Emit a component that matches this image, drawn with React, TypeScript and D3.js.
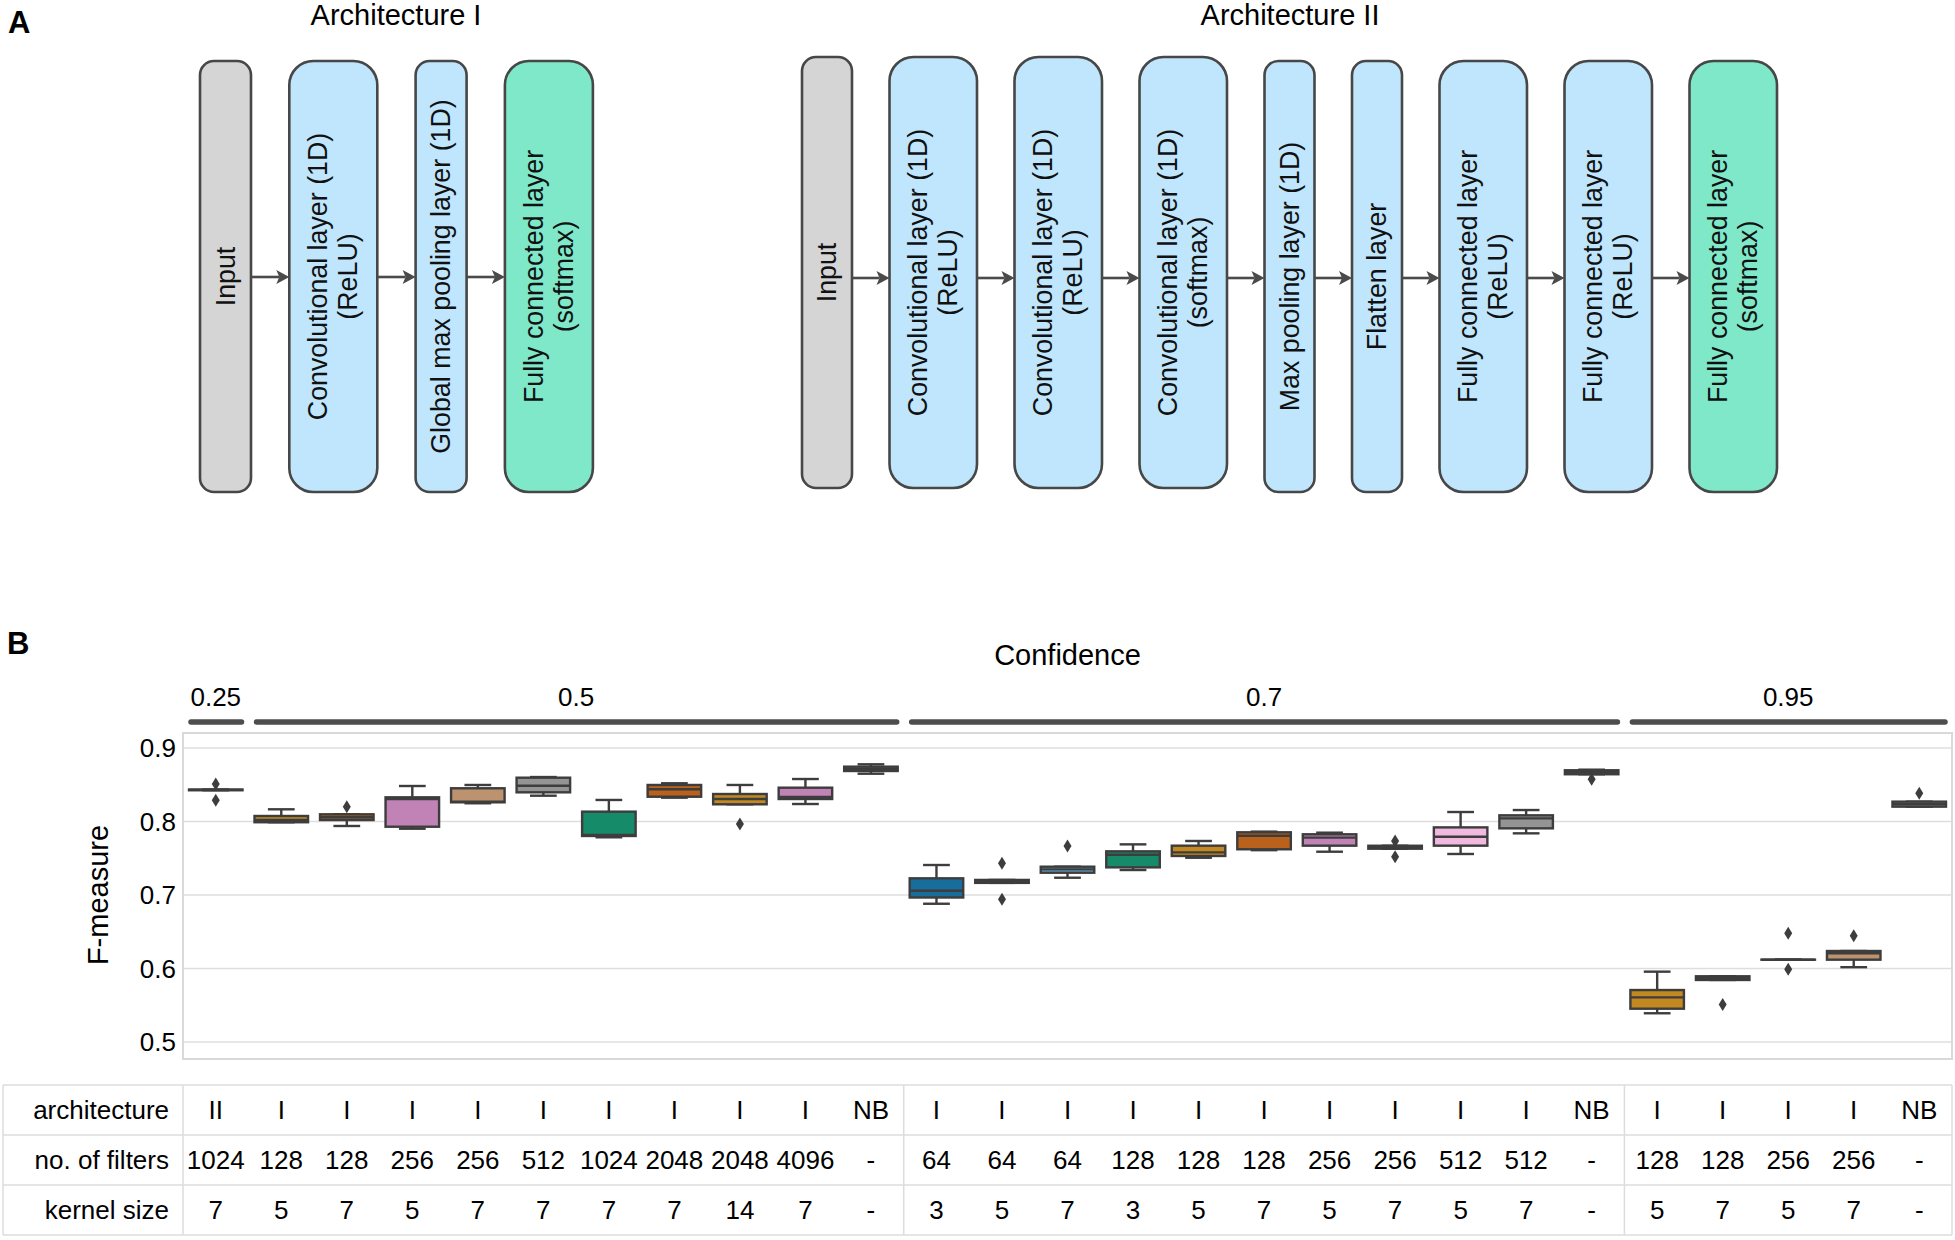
import React from "react";
import * as d3 from "d3";

// ---------- Panel A: layers ----------
const archITitle = "Architecture I";
const archIILitle = "Architecture II";
const archILayers: { lines: string[]; kind: string }[] = [
  { lines: ["Input"], kind: "input" },
  { lines: ["Convolutional layer (1D)", "(ReLU)"], kind: "hidden" },
  { lines: ["Global max pooling layer (1D)"], kind: "hidden" },
  { lines: ["Fully connected layer", "(softmax)"], kind: "output" },
];
const archIILayers: { lines: string[]; kind: string }[] = [
  { lines: ["Input"], kind: "input" },
  { lines: ["Convolutional layer (1D)", "(ReLU)"], kind: "hidden" },
  { lines: ["Convolutional layer (1D)", "(ReLU)"], kind: "hidden" },
  { lines: ["Convolutional layer (1D)", "(softmax)"], kind: "hidden" },
  { lines: ["Max pooling layer (1D)"], kind: "hidden" },
  { lines: ["Flatten layer"], kind: "hidden" },
  { lines: ["Fully connected layer", "(ReLU)"], kind: "hidden" },
  { lines: ["Fully connected layer", "(ReLU)"], kind: "hidden" },
  { lines: ["Fully connected layer", "(softmax)"], kind: "output" },
];

// ---------- Panel B: data ----------
const confidenceLevels = ["0.25", "0.5", "0.7", "0.95"];
const confidenceCounts = [1, 10, 11, 5];
const architectures = ["II", "I", "I", "I", "I", "I", "I", "I", "I", "I", "NB",
  "I", "I", "I", "I", "I", "I", "I", "I", "I", "I", "NB",
  "I", "I", "I", "I", "NB"];
const filterCounts = ["1024", "128", "128", "256", "256", "512", "1024", "2048", "2048", "4096", "-",
  "64", "64", "64", "128", "128", "128", "256", "256", "512", "512", "-",
  "128", "128", "256", "256", "-"];
const kernelSizes = ["7", "5", "7", "5", "7", "7", "7", "7", "14", "7", "-",
  "3", "5", "7", "3", "5", "7", "5", "7", "5", "7", "-",
  "5", "7", "5", "7", "-"];

const whiskerLow = [0.8425, 0.799, 0.7939, 0.7902, 0.8248, 0.8351, 0.7785, 0.8324, 0.8234, 0.8238, 0.865,
  0.6881, 0.7165, 0.7235, 0.734, 0.7507, 0.761, 0.7589, 0.763, 0.7558, 0.7839, 0.8643,
  0.5391, 0.5844, 0.612, 0.6018, 0.8202];
const q1 = [0.8425, 0.799, 0.802, 0.7929, 0.8261, 0.8397, 0.7803, 0.8337, 0.8234, 0.8306, 0.8687,
  0.6966, 0.7165, 0.7303, 0.7376, 0.7531, 0.7622, 0.7671, 0.763, 0.7671, 0.7907, 0.8643,
  0.5453, 0.5844, 0.612, 0.612, 0.8202];
const medians = [0.843, 0.802, 0.8057, 0.8306, 0.827, 0.8487, 0.7816, 0.8438, 0.8306, 0.8335, 0.8718,
  0.7058, 0.719, 0.7349, 0.7548, 0.758, 0.7807, 0.778, 0.765, 0.7793, 0.8043, 0.867,
  0.5607, 0.587, 0.612, 0.6207, 0.8235];
const q3 = [0.8435, 0.8075, 0.8098, 0.8329, 0.8452, 0.8596, 0.8134, 0.8497, 0.8374, 0.846, 0.8746,
  0.7227, 0.7205, 0.7385, 0.7594, 0.7671, 0.7853, 0.7826, 0.767, 0.792, 0.8084, 0.8697,
  0.5707, 0.5894, 0.612, 0.6238, 0.827];
const whiskerHigh = [0.8435, 0.8166, 0.8098, 0.8483, 0.8497, 0.8605, 0.8293, 0.852, 0.8497, 0.8578, 0.8778,
  0.7408, 0.7205, 0.7385, 0.7689, 0.7735, 0.7862, 0.7848, 0.767, 0.8129, 0.8156, 0.8705,
  0.5957, 0.5894, 0.612, 0.6238, 0.827];
const outliers: number[][] = [[0.851, 0.829], [], [0.82], [], [], [], [], [], [0.7966], [], [],
  [], [0.7431, 0.6941], [0.7667], [], [], [], [], [0.7735, 0.7521], [], [], [0.8574],
  [], [0.551], [0.6479, 0.5989], [0.6447], [0.8383]];
const boxColors = ["#949494", "#c38820", "#ba611b", "#c183b5", "#bd926e", "#949494", "#168b6a", "#ba611b", "#c38820", "#c183b5", "#bd926e",
  "#176d9c", "#c38820", "#68afd6", "#168b6a", "#c38820", "#ba611b", "#c183b5", "#bd926e", "#f1b8e0", "#949494", "#949494",
  "#c38820", "#ba611b", "#c183b5", "#bd926e", "#949494"];
const yTicks = [0.5, 0.6, 0.7, 0.8, 0.9];
const tableRows = [
  { label: "architecture", values: architectures },
  { label: "no. of filters", values: filterCounts },
  { label: "kernel size", values: kernelSizes },
];

const FONT = "'Liberation Sans', Arial, Helvetica, sans-serif";
const EDGE = "#3d3d3d";
const kindFill: Record<string, string> = { input: "#d5d5d5", hidden: "#bfe6fc", output: "#7ee8c9" };

function Architecture({ layers, x0, narrow, wide, gap, tops, bottom, arrowY }: any) {
  let x = x0;
  const rects: any[] = [];
  layers.forEach((l: any, i: number) => {
    const w = l.lines.length > 1 ? wide : narrow;
    rects.push({ ...l, x, w, top: tops(i), bottom: bottom(i) });
    x += w + gap;
  });
  return (
    <g>
      {rects.map((r, i) => {
        const cx = r.x + r.w / 2;
        const cy = (r.top + r.bottom) / 2;
        return (
          <g key={i}>
            <rect x={r.x} y={r.top} width={r.w} height={r.bottom - r.top}
              rx={r.w > 70 ? 24 : 14} ry={r.w > 70 ? 24 : 14}
              fill={kindFill[r.kind]} stroke="#474747" strokeWidth={2.6} />
            <g transform={`translate(${cx},${cy}) rotate(-90)`}>
              {r.lines.map((t: string, j: number) => (
                <text key={j} x={0} y={(j - (r.lines.length - 1) / 2) * 30}
                  textAnchor="middle" dominantBaseline="central" fontSize={26.8}
                  fontFamily={FONT} fill="#111">{t}</text>
              ))}
            </g>
            {i < rects.length - 1 && (
              <g>
                <line x1={r.x + r.w} x2={rects[i + 1].x - 10} y1={arrowY} y2={arrowY}
                  stroke="#4a4a4a" strokeWidth={2.6} />
                <path d={`M${rects[i + 1].x},${arrowY} l-13,-7 l3,7 l-3,7 z`} fill="#4a4a4a" />
              </g>
            )}
          </g>
        );
      })}
    </g>
  );
}

export default function App() {
  const W = 1955, H = 1240;
  const plotLeft = 183, plotRight = 1952, plotTop = 733, plotBottom = 1059;
  const n = architectures.length;
  const x = d3.scaleBand<number>().domain(d3.range(n)).range([plotLeft, plotRight]).padding(0);
  const y = d3.scaleLinear().domain([0.5, 0.9]).range([1042, 748]);
  const bw = x.bandwidth();
  const boxW = bw * 0.817;
  const cxOf = (i: number) => (x(i) as number) + bw / 2;

  const groupStarts: number[] = [];
  let acc = 0;
  confidenceCounts.forEach((c) => { groupStarts.push(acc); acc += c; });

  const tableTop = 1085;
  const rowH = 50;
  const tableLeft = 3;

  return (
    <svg width={W} height={H} viewBox={`0 0 ${W} ${H}`}
      style={{ position: "absolute", left: 0, top: 0, background: "#fff" }}>
      <rect x={0} y={0} width={W} height={H} fill="#fff" />
      {/* Panel A */}
      <text x={8} y={33} fontSize={31} fontWeight="bold" fontFamily={FONT}>A</text>
      <text x={396} y={25} fontSize={29} textAnchor="middle" fontFamily={FONT}>{archITitle}</text>
      <text x={1290} y={25} fontSize={29} textAnchor="middle" fontFamily={FONT}>{archIILitle}</text>
      <Architecture layers={archILayers} x0={200} narrow={51} wide={88} gap={38.3}
        tops={() => 61} bottom={() => 492} arrowY={277} />
      <Architecture layers={archIILayers} x0={802} narrow={50} wide={87.5} gap={37.5}
        tops={(i: number) => (i < 4 ? 57 : 61)} bottom={(i: number) => (i < 4 ? 488 : 492)} arrowY={278} />

      {/* Panel B */}
      <text x={7} y={654} fontSize={31} fontWeight="bold" fontFamily={FONT}>B</text>
      <text x={(plotLeft + plotRight) / 2} y={665} fontSize={29} textAnchor="middle" fontFamily={FONT}>Confidence</text>
      {confidenceLevels.map((lab, g) => {
        const s = groupStarts[g];
        const e = s + confidenceCounts[g] - 1;
        const x1 = x(s) as number;
        const x2 = (x(e) as number) + bw;
        return (
          <g key={lab}>
            <text x={(x1 + x2) / 2} y={706} fontSize={26} textAnchor="middle" fontFamily={FONT}>{lab}</text>
            <line x1={x1 + 8} x2={x2 - 7} y1={722} y2={722} stroke="#4d4d4d"
              strokeWidth={5.5} strokeLinecap="round" />
          </g>
        );
      })}

      {/* grid */}
      {yTicks.map((t) => (
        <g key={t}>
          <line x1={plotLeft} x2={plotRight} y1={y(t)} y2={y(t)} stroke="#dedede" strokeWidth={1.5} />
          <text x={176} y={y(t)} fontSize={26} textAnchor="end" dominantBaseline="central" fontFamily={FONT}>{t.toFixed(1)}</text>
        </g>
      ))}
      <rect x={plotLeft} y={plotTop} width={plotRight - plotLeft} height={plotBottom - plotTop}
        fill="none" stroke="#d9d9d9" strokeWidth={2} />
      <text transform={`translate(108,${(y(0.5) + y(0.9)) / 2}) rotate(-90)`} fontSize={29}
        textAnchor="middle" fontFamily={FONT}>F-measure</text>

      {/* boxes */}
      {architectures.map((_, i) => {
        const cx = cxOf(i);
        const capW = boxW / 2;
        return (
          <g key={i}>
            <line x1={cx} x2={cx} y1={y(whiskerHigh[i])} y2={y(q3[i])} stroke={EDGE} strokeWidth={2.4} />
            <line x1={cx} x2={cx} y1={y(q1[i])} y2={y(whiskerLow[i])} stroke={EDGE} strokeWidth={2.4} />
            <line x1={cx - capW / 2} x2={cx + capW / 2} y1={y(whiskerHigh[i])} y2={y(whiskerHigh[i])} stroke={EDGE} strokeWidth={2.4} />
            <line x1={cx - capW / 2} x2={cx + capW / 2} y1={y(whiskerLow[i])} y2={y(whiskerLow[i])} stroke={EDGE} strokeWidth={2.4} />
            <rect x={cx - boxW / 2} y={y(q3[i])} width={boxW} height={Math.max(0.01, y(q1[i]) - y(q3[i]))}
              fill={boxColors[i]} stroke={EDGE} strokeWidth={2.4} />
            <line x1={cx - boxW / 2} x2={cx + boxW / 2} y1={y(medians[i])} y2={y(medians[i])} stroke={EDGE} strokeWidth={2.4} />
            {outliers[i].map((o, k) => (
              <path key={k} transform={`translate(${cx},${y(o)})`} d="M0,-6.5 L4,0 L0,6.5 L-4,0 Z" fill={EDGE} />
            ))}
          </g>
        );
      })}

      {/* table */}
      {[0, 1, 2, 3].map((r) => (
        <line key={r} x1={tableLeft} x2={plotRight} y1={tableTop + r * rowH} y2={tableTop + r * rowH}
          stroke="#dcdcdc" strokeWidth={1.5} />
      ))}
      {[tableLeft, plotLeft, ...groupStarts.slice(2).map((s) => x(s) as number), plotRight].map((vx, k) => (
        <line key={k} x1={vx} x2={vx} y1={tableTop} y2={tableTop + 3 * rowH} stroke="#dcdcdc" strokeWidth={1.5} />
      ))}
      {tableRows.map((row, r) => {
        const cy = tableTop + r * rowH + rowH / 2;
        return (
          <g key={row.label}>
            <text x={169} y={cy} fontSize={26} textAnchor="end" dominantBaseline="central" fontFamily={FONT}>{row.label}</text>
            {row.values.map((v, i) => (
              <text key={i} x={cxOf(i)} y={cy} fontSize={26} textAnchor="middle" dominantBaseline="central" fontFamily={FONT}>{v}</text>
            ))}
          </g>
        );
      })}
    </svg>
  );
}
